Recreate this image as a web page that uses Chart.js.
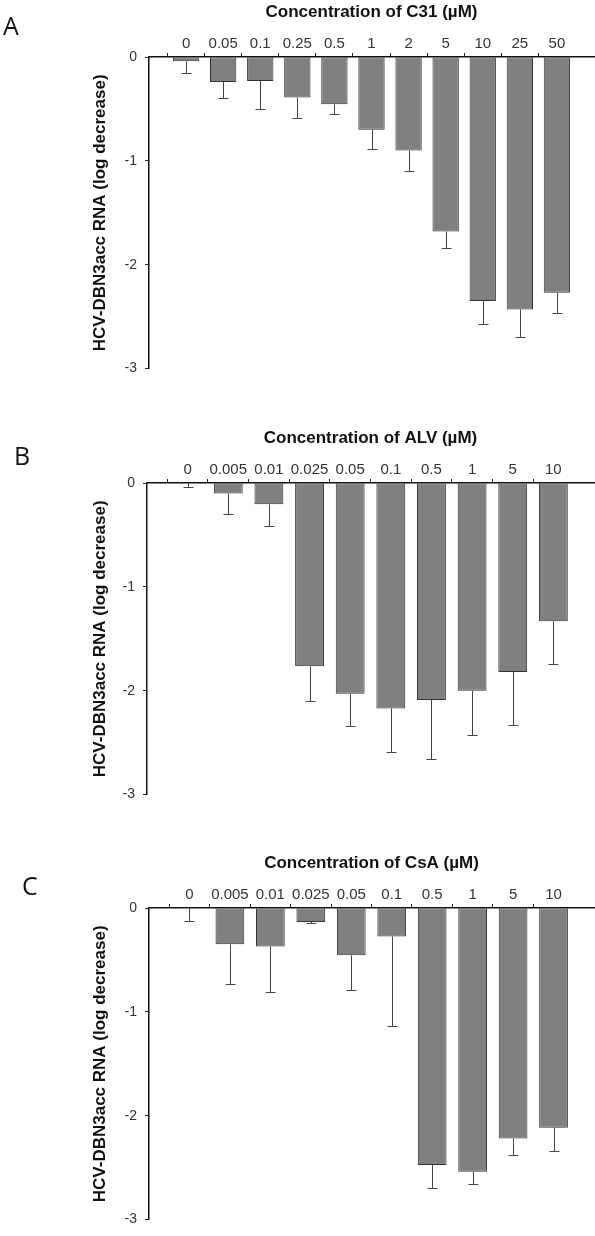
<!DOCTYPE html>
<html>
<head>
<meta charset="utf-8">
<script src="https://cdn.jsdelivr.net/npm/chart.js@4.4.0/dist/chart.umd.min.js"></script>
<style>
  body { margin: 0; background: #fff; width: 595px; height: 1236px; position: relative; overflow: hidden; }
  .panel { position: absolute; left: 0; width: 595px; height: 385px; }
  .letter { position: absolute; font-family: 'Open Sans', sans-serif; font-size: 25px; line-height: 1; color: #111; }
</style>
</head>
<body>
<div class="panel" style="top:0px"><canvas id="chartA" width="595" height="385"></canvas></div>
<div class="panel" style="top:426px"><canvas id="chartB" width="595" height="385"></canvas></div>
<div class="panel" style="top:851px"><canvas id="chartC" width="595" height="385"></canvas></div>
<div class="letter" style="left:3px;top:13px">A</div>
<div class="letter" style="left:14px;top:443px">B</div>
<div class="letter" style="left:22px;top:873px">C</div>

<script>
// --- Data (log decrease, error = one-sided SD downward) ---
const concA = ['0', '0.05', '0.1', '0.25', '0.5', '1', '2', '5', '10', '25', '50'];
const valuesA = [-0.04, -0.24, -0.23, -0.39, -0.455, -0.70, -0.90, -1.68, -2.35, -2.43, -2.27];
const errorsA = [0.11, 0.15, 0.27, 0.195, 0.095, 0.19, 0.20, 0.16, 0.22, 0.27, 0.19];

const concB = ['0', '0.005', '0.01', '0.025', '0.05', '0.1', '0.5', '1', '5', '10'];
const valuesB = [0, -0.10, -0.205, -1.765, -2.03, -2.17, -2.09, -2.00, -1.82, -1.33];
const errorsB = [0.035, 0.20, 0.205, 0.335, 0.31, 0.42, 0.57, 0.43, 0.51, 0.41];

const concC = ['0', '0.005', '0.01', '0.025', '0.05', '0.1', '0.5', '1', '5', '10'];
const valuesC = [0, -0.35, -0.37, -0.135, -0.455, -0.275, -2.475, -2.54, -2.22, -2.115];
const errorsC = [0.125, 0.38, 0.44, 0.01, 0.335, 0.865, 0.225, 0.12, 0.155, 0.225];

const yTicks = [0, -1, -2, -3];
const Y_TITLE = 'HCV-DBN3acc RNA (log decrease)';

// --- Error bars (downward only, with cap) ---
const errorBars = {
  id: 'errorBars',
  afterDatasetsDraw(chart) {
    const { ctx, scales: { y } } = chart;
    const ds = chart.data.datasets[0];
    const meta = chart.getDatasetMeta(0);
    ctx.save();
    ctx.strokeStyle = '#444';
    ctx.lineWidth = 1;
    meta.data.forEach((bar, i) => {
      const v = ds.data[i], e = ds.errors[i];
      if (v == null || e == null) return;
      const y0 = y.getPixelForValue(v);
      const y1 = Math.round(y.getPixelForValue(v - e)) + 0.5;
      const x = Math.round(bar.x) + 0.5;
      ctx.beginPath();
      ctx.moveTo(x, y0); ctx.lineTo(x, y1);
      ctx.moveTo(x - 5, y1); ctx.lineTo(x + 5, y1);
      ctx.stroke();
    });
    ctx.restore();
  }
};

function makePanel(id, conc, values, errors, drug, axisLeft) {
  // blank slot at both ends so bars sit at 1..n on a 0..n+1 axis
  const labels = ['', ...conc, ''];
  const last = labels.length - 1;
  return new Chart(document.getElementById(id), {
    type: 'bar',
    data: {
      labels,
      datasets: [{
        data: [null, ...values, null],
        errors: [null, ...errors, null],
        backgroundColor: '#808080',
        borderColor: '#333',
        borderWidth: 1,
        borderSkipped: false,
        barPercentage: 0.71,
        categoryPercentage: 1
      }]
    },
    options: {
      responsive: false,
      devicePixelRatio: 1,
      animation: false,
      layout: { padding: { top: 0, right: 1, bottom: 10, left: 0 } },
      plugins: { legend: { display: false }, tooltip: { enabled: false } },
      scales: {
        x: {
          position: 'top',
          offset: false,
          afterFit: s => { s.height = 57; },
          grid: {
            drawOnChartArea: false, tickLength: 4, tickWidth: 1,
            tickColor: c => (c.index === 0 || c.index === last) ? 'rgba(0,0,0,0)' : '#222'
          },
          border: { color: '#111', width: 1.5 },
          ticks: {
            autoSkip: false, maxRotation: 0, padding: 0, color: '#333',
            font: { family: 'Liberation Sans', size: 15 }
          },
          title: {
            display: true, text: `Concentration of ${drug} (µM)`, color: '#111',
            padding: { top: 2, bottom: 0 },
            font: { family: 'Liberation Sans', size: 17, weight: 'bold' }
          }
        },
        y: {
          min: -3, max: 0,
          afterFit: s => { s.width = axisLeft; },
          afterBuildTicks: s => { s.ticks = yTicks.map(v => ({ value: v })); },
          grid: { drawOnChartArea: false, tickLength: 4, tickColor: '#222' },
          border: { color: '#111', width: 1.5 },
          ticks: {
            padding: 8, color: '#333',
            font: { family: 'Liberation Sans', size: 14 }
          },
          title: {
            display: true, text: Y_TITLE, color: '#111',
            padding: { top: 90, bottom: 0 },
            font: { family: 'Liberation Sans', size: 17, weight: 'bold' }
          }
        }
      }
    },
    plugins: [errorBars]
  });
}

makePanel('chartA', concA, valuesA, errorsA, 'C31', 149);
makePanel('chartB', concB, valuesB, errorsB, 'ALV', 147);
makePanel('chartC', concC, valuesC, errorsC, 'CsA', 149);
</script>
</body>
</html>
